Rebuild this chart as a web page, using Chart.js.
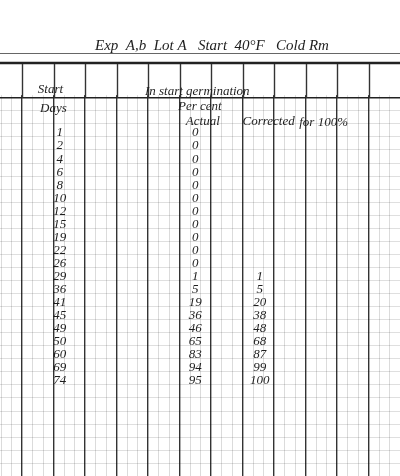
<!DOCTYPE html>
<html>
<head>
<meta charset="utf-8">
<script src="https://cdn.jsdelivr.net/npm/chart.js@4"></script>
<style>
  html, body { margin: 0; padding: 0; background: #fff; }
  #wrap { width: 400px; height: 476px; }
</style>
</head>
<body>
<div id="wrap"><canvas id="sheet"></canvas></div>
<script>
// ---- data ----
const days      = [1, 2, 4, 6, 8, 10, 12, 15, 19, 22, 26, 29, 36, 41, 45, 49, 50, 60, 69, 74];
const actual    = [0, 0, 0, 0, 0, 0, 0, 0, 0, 0, 0, 1, 5, 19, 36, 46, 65, 83, 94, 95];
const corrected = [null, null, null, null, null, null, null, null, null, null, null, 1, 5, 20, 38, 48, 68, 87, 99, 100];

const titleText = 'Exp  A,b  Lot A   Start  40°F   Cold Rm';
const headerLabels = [
  { text: 'Start', x: 0.5, y: -3.3 },
  { text: 'In start germination', x: 3.9, y: -3.2 },
  { text: 'Days', x: 0.57, y: -1.9 },
  { text: 'Per cent', x: 4.95, y: -2.05 },
  { text: 'Actual', x: 5.2, y: -0.85 },
  { text: 'Corrected', x: 7.0, y: -0.85 },
  { text: 'for 100%', x: 8.8, y: -0.8 }
];

// column positions (in sheet column units)
const COL_DAYS = 1.2, COL_ACT = 5.5, COL_COR = 7.55;

const hand = 'italic 13px "Liberation Serif", "DejaVu Serif", serif';
const ink = '#1e1e1e';
const isMajor = v => Math.abs(v - Math.round(v)) < 1e-6;

const sheetPlugin = {
  id: 'sheet',
  beforeDatasetsDraw(chart) {
    const { ctx, scales: { x, y } } = chart;
    const W = chart.width;
    ctx.save();
    // blank header band above the ruled area
    ctx.fillStyle = '#fff';
    ctx.fillRect(0, 0, W, y.getPixelForValue(-2.9));
    // horizontal rules of header
    ctx.strokeStyle = '#666'; ctx.lineWidth = 1;
    ctx.beginPath(); ctx.moveTo(0, 53.5); ctx.lineTo(W, 53.5); ctx.stroke();
    ctx.strokeStyle = '#222'; ctx.lineWidth = 2.5;
    ctx.beginPath(); ctx.moveTo(0, 63); ctx.lineTo(W, 63); ctx.stroke();
    const yh = y.getPixelForValue(-2.7);
    ctx.lineWidth = 1.6;
    ctx.beginPath(); ctx.moveTo(0, yh); ctx.lineTo(W, yh); ctx.stroke();
    // heavy column lines through header band
    ctx.lineWidth = 1.4; ctx.strokeStyle = '#333';
    for (let c = 0; c <= 11; c++) {
      const px = Math.round(x.getPixelForValue(c)) + 0.5;
      ctx.beginPath(); ctx.moveTo(px, 64); ctx.lineTo(px, yh); ctx.stroke();
    }
    // title and headings
    ctx.fillStyle = ink;
    ctx.font = 'italic 15px "Liberation Serif", "DejaVu Serif", serif';
    ctx.textAlign = 'center'; ctx.textBaseline = 'middle';
    ctx.fillText(titleText, 212, 46);
    ctx.font = hand;
    ctx.textAlign = 'left';
    headerLabels.forEach(l => ctx.fillText(l.text, x.getPixelForValue(l.x), y.getPixelForValue(l.y)));
    ctx.restore();
  },
  afterDatasetsDraw(chart) {
    const { ctx } = chart;
    ctx.save();
    ctx.font = hand; ctx.fillStyle = ink;
    ctx.textAlign = 'center'; ctx.textBaseline = 'middle';
    chart.data.datasets.forEach((ds, i) => {
      chart.getDatasetMeta(i).data.forEach((pt, j) => {
        const raw = ds.data[j];
        if (raw && raw.label != null) ctx.fillText(String(raw.label), pt.x, pt.y);
      });
    });
    ctx.restore();
  }
};

const toPoints = (vals, col) => vals.map((v, r) => v == null ? null : { x: col, y: r, label: v }).filter(Boolean);

new Chart(document.getElementById('sheet'), {
  type: 'scatter',
  data: {
    datasets: [
      { label: 'Days', data: toPoints(days, COL_DAYS) },
      { label: 'Actual', data: toPoints(actual, COL_ACT) },
      { label: 'Corrected', data: toPoints(corrected, COL_COR) }
    ]
  },
  options: {
    responsive: true,
    maintainAspectRatio: false,
    animation: false,
    layout: { padding: 0 },
    elements: { point: { radius: 0, hoverRadius: 0 } },
    plugins: { legend: { display: false }, tooltip: { enabled: false } },
    scales: {
      x: {
        type: 'linear', min: -0.7, max: 12.0,
        ticks: { display: false },
        afterBuildTicks: ax => {
          const t = [];
          for (let k = -2; k <= 35; k++) t.push({ value: k / 3 });
          ax.ticks = t;
        },
        border: { display: false },
        grid: {
          drawTicks: false,
          color: c => isMajor(c.tick.value) ? '#333' : 'rgba(0,0,0,0.18)',
          lineWidth: c => isMajor(c.tick.value) ? 1.4 : 0.8
        }
      },
      y: {
        type: 'linear', reverse: true, min: -10.19, max: 26.28,
        ticks: { display: false },
        afterBuildTicks: ax => {
          const t = [];
          for (let k = -3; k <= 26; k++) t.push({ value: k + 0.3 });
          ax.ticks = t;
        },
        border: { display: false },
        grid: { drawTicks: false, color: 'rgba(0,0,0,0.16)', lineWidth: 0.8, tickBorderDash: [2, 2] }
      }
    }
  },
  plugins: [sheetPlugin]
});
</script>
</body>
</html>
